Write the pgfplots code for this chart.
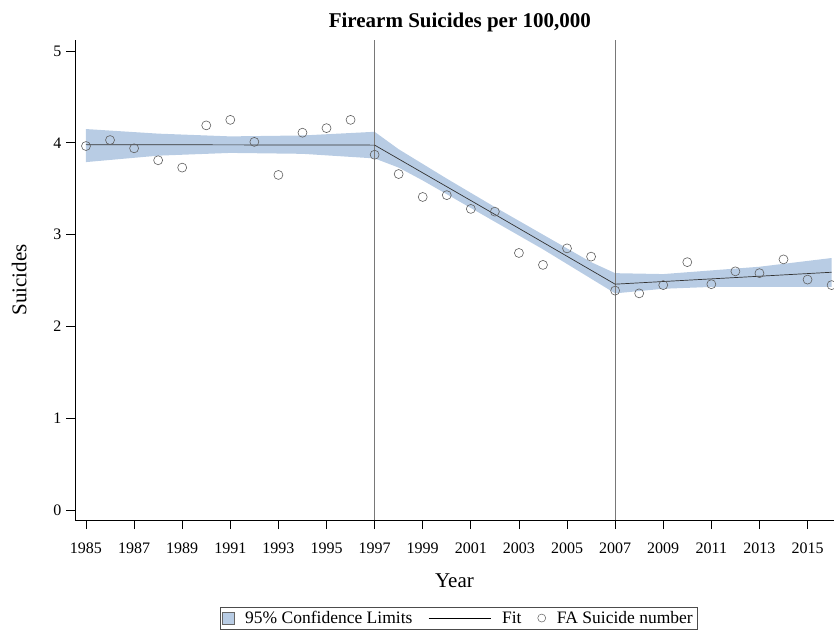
\documentclass[border=0pt]{standalone}
\usepackage{pgfplots}
\pgfplotsset{compat=1.18}
\usepackage{fontspec}
\setmainfont{Liberation Serif}
\definecolor{bandblue}{RGB}{184,204,228}
\definecolor{markgray}{RGB}{95,95,95}
\definecolor{refgray}{RGB}{120,120,120}
\begin{document}
\begin{tikzpicture}
\path[use as bounding box] (0pt,0pt) rectangle (834pt,630pt);
\begin{axis}[
  at={(75pt,110pt)}, anchor=south west,
  scale only axis, width=759pt, height=480pt,
  xmin=1984.543, xmax=2016.1, ymin=-0.109, ymax=5.12,
  axis x line*=bottom, axis y line*=left,
  axis line style={line width=1pt, -},
  xtick={1985,1987,...,2015}, ytick={0,1,2,3,4,5},
  x tick label style={/pgf/number format/1000 sep={}},
  /pgf/number format/assume math mode=true,
  tick style={line width=0.8pt, black},
  tick align=outside, major tick length=9pt,
  tick label style={font=\fontsize{16}{19}\selectfont},
  xticklabel style={yshift=-10pt},
  yticklabel style={xshift=-1pt},
  title={Firearm Suicides per 100,000},
  title style={font=\fontsize{21}{24}\selectfont\bfseries, at={(0.507,1)}, anchor=south, yshift=-2pt},
  xlabel={Year}, ylabel={Suicides},
  label style={font=\fontsize{21}{24}\selectfont},
  xlabel style={yshift=-14pt},
  ylabel style={yshift=20pt},
  legend columns=3,
  legend style={at={(0.505,-0.181)}, anchor=north, draw=black!70, line width=0.5pt,
    font=\fontsize{17.5}{20}\selectfont, inner sep=2pt,
    /tikz/every odd column/.append style={column sep=9pt},
    /tikz/every even column/.append style={column sep=14pt}},
  legend cell align=left,
  clip=false,
]
% confidence band: upper then lower reversed
\addplot[fill=bandblue, draw=none,
  legend image code/.code={\draw[fill=bandblue, draw=black!60, line width=0.4pt] (0pt,-6pt) rectangle (12pt,6pt);}]
 coordinates {
 (1985,4.15) (1988,4.10) (1991,4.07) (1994,4.08) (1997,4.12)
 (1998,3.93) (1999,3.77) (2000,3.61) (2002,3.30) (2004,3.00) (2006,2.70) (2007,2.58)
 (2009,2.57) (2011,2.61) (2013,2.65) (2016,2.745)
 (2016,2.43) (2013,2.43) (2011,2.43) (2009,2.41)
 (2007,2.36) (2006,2.52) (2004,2.84) (2002,3.14) (2000,3.44) (1999,3.59) (1998,3.73) (1997,3.83)
 (1994,3.88) (1991,3.89) (1988,3.86) (1985,3.79)
 };
\addlegendentry{95\% Confidence Limits}
% reference lines
\addplot[refgray, line width=0.7pt, forget plot] coordinates {(1997,-0.109) (1997,5.12)};
\addplot[refgray, line width=0.7pt, forget plot] coordinates {(2007,-0.109) (2007,5.12)};
% fit
\addplot[black!80, line width=0.7pt, legend image code/.code={\draw[black, line width=0.6pt] (0pt,0pt) -- (62pt,0pt);}]
 coordinates {(1985,3.98) (1997,3.975) (2002,3.22) (2007,2.46) (2016,2.59)};
\addlegendentry{Fit}
% observed
\addplot[only marks, mark=o, mark size=4.5pt, markgray, mark options={line width=0.6pt},
  legend image code/.code={\draw[markgray, line width=0.5pt] (4pt,0pt) circle (4pt);}]
 coordinates {
 (1985,3.965) (1986,4.03) (1987,3.94) (1988,3.81) (1989,3.73) (1990,4.19)
 (1991,4.25) (1992,4.01) (1993,3.65) (1994,4.11) (1995,4.16) (1996,4.25)
 (1997,3.87) (1998,3.66) (1999,3.41) (2000,3.43) (2001,3.28) (2002,3.25)
 (2003,2.80) (2004,2.67) (2005,2.85) (2006,2.76) (2007,2.39) (2008,2.36)
 (2009,2.45) (2010,2.70) (2011,2.46) (2012,2.60) (2013,2.58) (2014,2.73)
 (2015,2.51) (2016,2.45)
 };
\addlegendentry{FA Suicide number}
\end{axis}
\end{tikzpicture}
\end{document}
